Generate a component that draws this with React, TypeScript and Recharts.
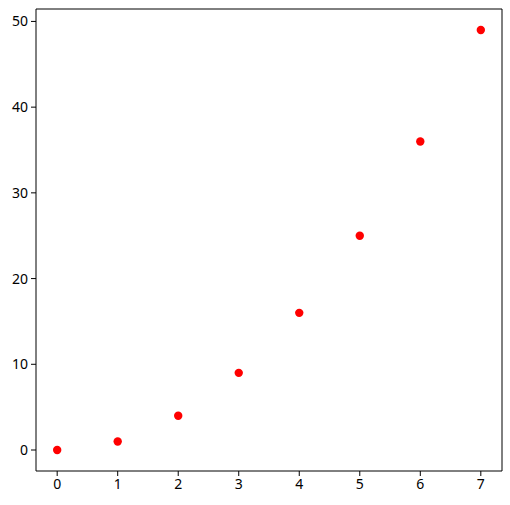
import { ScatterChart, Scatter, XAxis, YAxis } from "recharts";

const xValues = [0, 1, 2, 3, 4, 5, 6, 7];
const yValues = [0, 1, 4, 9, 16, 25, 36, 49];
const xTicks = [0, 1, 2, 3, 4, 5, 6, 7];
const yTicks = [0, 10, 20, 30, 40, 50];

const points = xValues.map((x, i) => ({ x, y: yValues[i] }));

const tickStyle = { fill: "#000", fontSize: 14, fontFamily: "Noto Sans" };
const lineStyle = { stroke: "#000", strokeWidth: 1 };

const Dot = (props: any) => <circle cx={props.cx} cy={props.cy} r={4.2} fill="#ff0000" />;

export default function App() {
  return (
    <div style={{ position: "absolute", left: 0, top: 0, width: 510, height: 505, background: "#fff" }}>
      <ScatterChart width={510} height={505} margin={{ top: 8, right: 7, left: 0, bottom: 0 }}>
        <XAxis
          type="number"
          dataKey="x"
          domain={[-0.35, 7.35]}
          ticks={xTicks}
          allowDataOverflow
          height={34}
          tick={tickStyle}
          tickSize={5}
          tickMargin={3}
          axisLine={lineStyle}
          tickLine={lineStyle}
        />
        <XAxis
          xAxisId="top"
          orientation="top"
          dataKey="x"
          type="number"
          domain={[-0.35, 7.35]}
          allowDataOverflow
          height={1}
          tick={false}
          tickLine={false}
          axisLine={lineStyle}
        />
        <YAxis
          type="number"
          dataKey="y"
          domain={[-2.45, 51.45]}
          ticks={yTicks}
          allowDataOverflow
          width={36}
          tick={tickStyle}
          tickSize={5}
          tickMargin={3}
          axisLine={lineStyle}
          tickLine={lineStyle}
        />
        <YAxis
          yAxisId="right"
          orientation="right"
          dataKey="y"
          type="number"
          domain={[-2.45, 51.45]}
          allowDataOverflow
          width={1}
          tick={false}
          tickLine={false}
          axisLine={lineStyle}
        />
        <Scatter data={points} shape={Dot} isAnimationActive={false} />
      </ScatterChart>
    </div>
  );
}
